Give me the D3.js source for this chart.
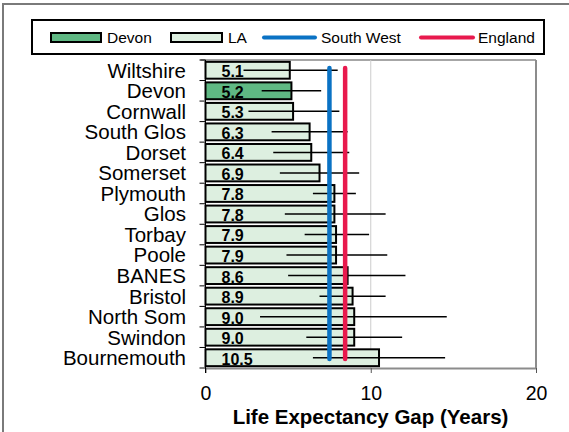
<!DOCTYPE html>
<html>
<head>
<meta charset="utf-8">
<script src="https://cdn.jsdelivr.net/npm/d3@7"></script>
<style>
  html, body { margin: 0; padding: 0; background: #fff; }
  svg { display: block; font-family: "Liberation Sans", Arial, sans-serif; }
</style>
</head>
<body>
<svg id="chart" width="569" height="432"></svg>
<script>
// Local authorities, sorted by life expectancy gap
const categories = ["Wiltshire", "Devon", "Cornwall", "South Glos", "Dorset", "Somerset",
  "Plymouth", "Glos", "Torbay", "Poole", "BANES", "Bristol", "North Som", "Swindon", "Bournemouth"];
const gapValues = [5.1, 5.2, 5.3, 6.3, 6.4, 6.9, 7.8, 7.8, 7.9, 7.9, 8.6, 8.9, 9.0, 9.0, 10.5];
// 95% confidence interval bounds
const ciLower = [2.3, 3.4, 2.6, 4.0, 4.1, 4.5, 6.5, 4.8, 6.0, 4.9, 5.0, 6.9, 3.3, 6.1, 6.5];
const ciUpper = [8.0, 7.0, 8.1, 8.6, 8.7, 9.3, 9.1, 10.9, 9.9, 11.0, 12.1, 10.9, 14.6, 11.9, 14.5];
const highlight = "Devon";
// Benchmark gaps
const southWestGap = 7.5;
const englandGap = 8.45;
const xTicks = [0, 10, 20];
const legendLabels = ["Devon", "LA", "South West", "England"];

const colors = {
  devon: "#5fb883",
  la: "#ddefe0",
  southWest: "#0a72c4",
  england: "#e8194d"
};

const svg = d3.select("#chart");

const plot = { left: 205.5, right: 536, top: 60, bottom: 368 };

const x = d3.scaleLinear().domain([0, 20]).range([plot.left, plot.right]);
const y = d3.scaleBand().domain(categories).range([plot.top, plot.bottom])
  .paddingInner(0.18).paddingOuter(0.09);

// Outer frame
svg.append("path")
  .attr("d", "M3,440 L3,4 L575,4")
  .attr("fill", "none").attr("stroke", "#7a7a7a").attr("stroke-width", 2);

// Plot area: top and right borders, gridline at 10
svg.append("line").attr("x1", plot.left - 5).attr("x2", plot.right)
  .attr("y1", plot.top).attr("y2", plot.top)
  .attr("stroke", "#a6a6a6").attr("stroke-width", 2);
svg.append("line").attr("x1", plot.right).attr("x2", plot.right)
  .attr("y1", plot.top).attr("y2", plot.bottom)
  .attr("stroke", "#8c8c8c").attr("stroke-width", 2);
svg.append("line").attr("x1", x(10)).attr("x2", x(10))
  .attr("y1", plot.top).attr("y2", plot.bottom)
  .attr("stroke", "#cccccc").attr("stroke-width", 1);

// Bottom axis
const xAxis = svg.append("g")
  .attr("transform", `translate(0,${plot.bottom})`)
  .call(d3.axisBottom(x).tickValues(xTicks).tickSize(5).tickSizeOuter(0));
xAxis.select(".domain").attr("stroke", "#8c8c8c").attr("stroke-width", 2);
xAxis.selectAll(".tick line").attr("stroke", "#555").attr("stroke-width", 1);
xAxis.selectAll(".tick text")
  .attr("dy", null).attr("y", 32)
  .attr("font-size", 19.5).attr("fill", "#000")
  .attr("font-family", "'Liberation Sans', Arial, sans-serif");

// Bars
const rows = categories.map((c, i) => ({
  name: c, value: gapValues[i], lo: ciLower[i], hi: ciUpper[i]
}));

svg.append("g").selectAll("rect").data(rows).join("rect")
  .attr("x", x(0))
  .attr("y", d => y(d.name))
  .attr("width", d => x(d.value) - x(0))
  .attr("height", y.bandwidth())
  .attr("fill", d => d.name === highlight ? colors.devon : colors.la)
  .attr("stroke", "#000").attr("stroke-width", 2);

// Confidence interval lines
svg.append("g").selectAll("line").data(rows).join("line")
  .attr("x1", d => x(d.lo)).attr("x2", d => x(d.hi))
  .attr("y1", d => y(d.name) + y.bandwidth() / 2)
  .attr("y2", d => y(d.name) + y.bandwidth() / 2)
  .attr("stroke", "#000").attr("stroke-width", 1.5);

// Value labels
svg.append("g").selectAll("text").data(rows).join("text")
  .attr("x", x(0) + 16)
  .attr("y", d => y(d.name) + y.bandwidth() - 1.5)
  .attr("font-size", 16).attr("font-weight", "bold")
  .text(d => d.value.toFixed(1));

// Left axis with ticks between categories
const step = y.step();
const edges = d3.range(categories.length + 1).map(i => plot.top + i * step);
const yAxis = svg.append("g");
yAxis.append("line")
  .attr("x1", plot.left).attr("x2", plot.left)
  .attr("y1", plot.top).attr("y2", plot.bottom + 5)
  .attr("stroke", "#000").attr("stroke-width", 1);
yAxis.selectAll("line.tick").data(edges).join("line")
  .attr("class", "tick")
  .attr("x1", plot.left - 6).attr("x2", plot.left)
  .attr("y1", d => d).attr("y2", d => d)
  .attr("stroke", "#000").attr("stroke-width", 1);
yAxis.selectAll("text").data(categories).join("text")
  .attr("x", 186)
  .attr("y", d => y(d) + y.bandwidth() / 2)
  .attr("dy", "0.36em")
  .attr("text-anchor", "end")
  .attr("font-size", 20.5)
  .text(d => d);

// Benchmark lines
const refTop = plot.top + 8;
const refBottom = plot.bottom - 9;
[[southWestGap, colors.southWest], [englandGap, colors.england]].forEach(([v, c]) => {
  svg.append("line")
    .attr("x1", x(v)).attr("x2", x(v))
    .attr("y1", refTop).attr("y2", refBottom)
    .attr("stroke", c).attr("stroke-width", 4.5).attr("stroke-linecap", "round");
});

// Axis title
svg.append("text")
  .attr("x", 370.5).attr("y", 424)
  .attr("text-anchor", "middle")
  .attr("font-size", 20.5).attr("font-weight", "bold")
  .text("Life Expectancy Gap (Years)");

// Legend
const legend = svg.append("g");
legend.append("rect")
  .attr("x", 32).attr("y", 20).attr("width", 512).attr("height", 34)
  .attr("fill", "#fff").attr("stroke", "#000").attr("stroke-width", 2);
const legendY = 37.5;
const legendItems = [
  { label: legendLabels[0], type: "rect", fill: colors.devon, x0: 51, x1: 101, tx: 107 },
  { label: legendLabels[1], type: "rect", fill: colors.la, x0: 171, x1: 222, tx: 228 },
  { label: legendLabels[2], type: "line", fill: colors.southWest, x0: 264, x1: 315, tx: 321 },
  { label: legendLabels[3], type: "line", fill: colors.england, x0: 421, x1: 473, tx: 478 }
];
legendItems.forEach(it => {
  if (it.type === "rect") {
    legend.append("rect")
      .attr("x", it.x0).attr("y", legendY - 4.5)
      .attr("width", it.x1 - it.x0).attr("height", 9)
      .attr("fill", it.fill).attr("stroke", "#000").attr("stroke-width", 2);
  } else {
    legend.append("line")
      .attr("x1", it.x0).attr("x2", it.x1)
      .attr("y1", legendY).attr("y2", legendY)
      .attr("stroke", it.fill).attr("stroke-width", 4).attr("stroke-linecap", "round");
  }
  legend.append("text")
    .attr("x", it.tx).attr("y", legendY + 5.5)
    .attr("font-size", 15.5)
    .text(it.label);
});
</script>
</body>
</html>
